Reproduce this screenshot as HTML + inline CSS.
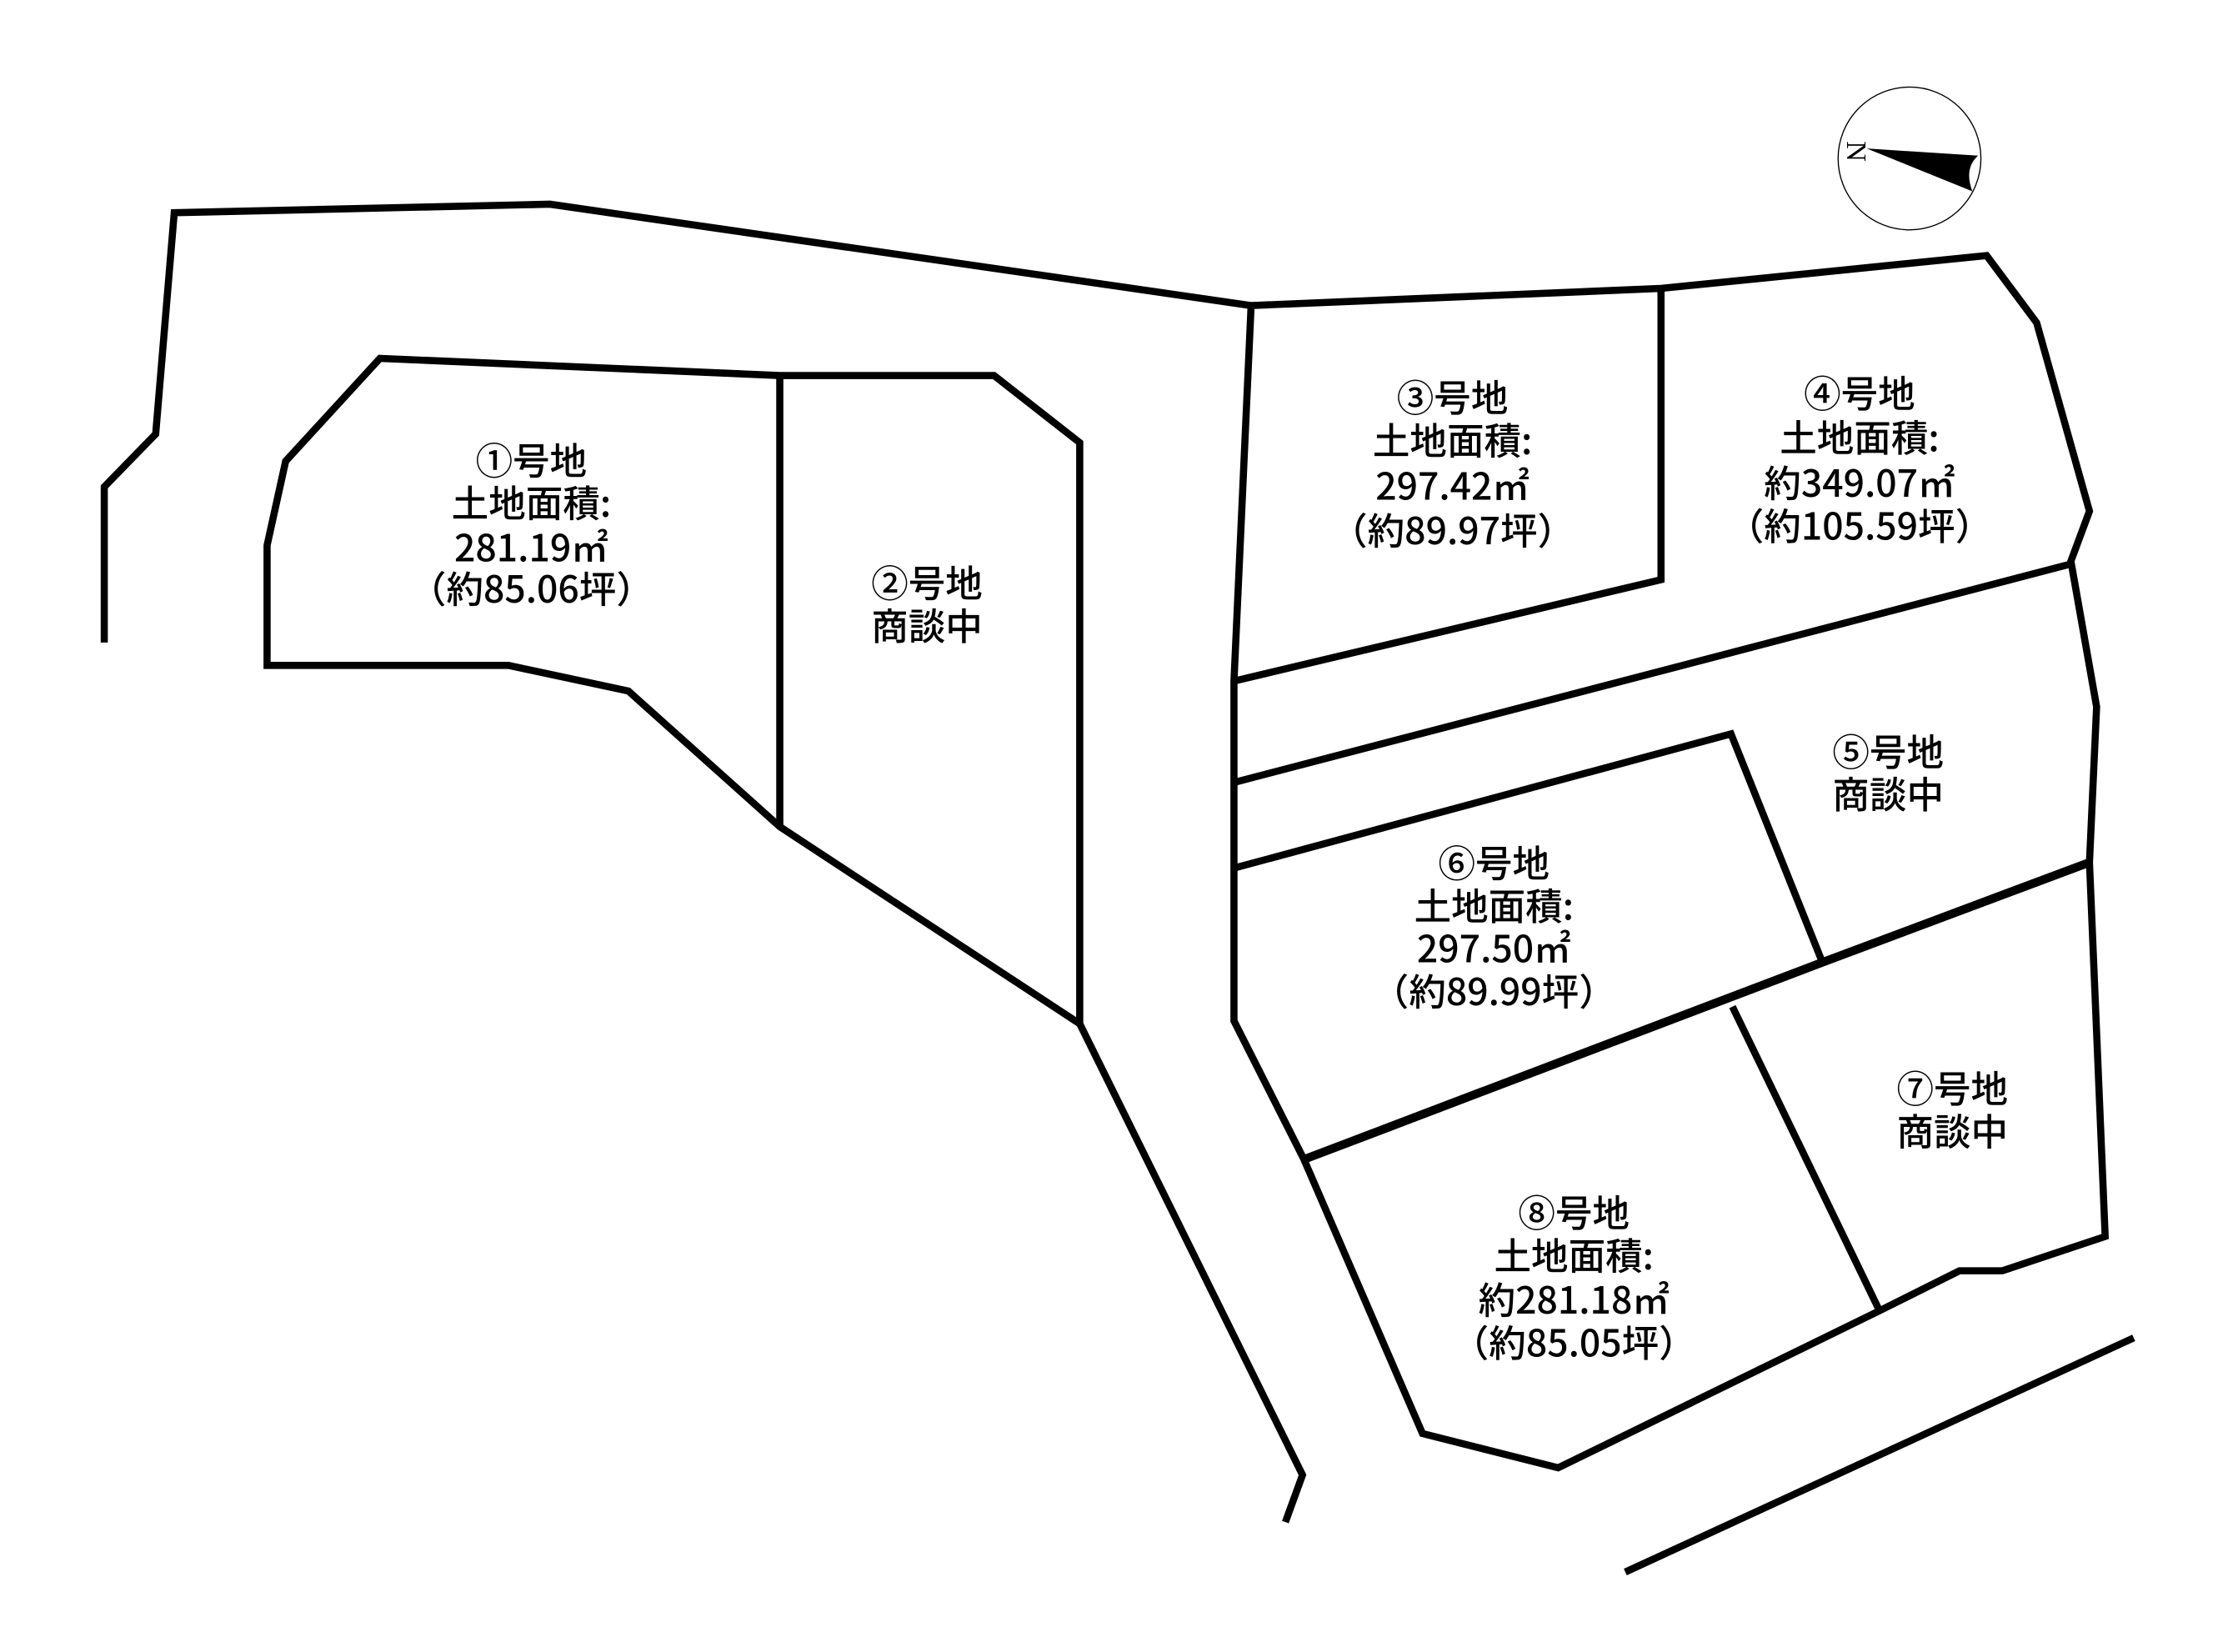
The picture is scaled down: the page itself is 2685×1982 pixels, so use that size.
<!DOCTYPE html>
<html><head><meta charset="utf-8"><style>
html,body{margin:0;padding:0;background:#fff;}
svg{display:block;}
text{font-family:"Noto Sans CJK JP","Liberation Sans",sans-serif;font-size:26px;font-weight:500;fill:#000;text-anchor:middle;dominant-baseline:middle;}
</style></head><body>
<svg width="2685" height="1982" viewBox="0 0 1567 1157" preserveAspectRatio="none" xmlns="http://www.w3.org/2000/svg">
<g fill="none" stroke="#000" stroke-width="5" stroke-linejoin="miter">
<polyline points="73,450 73,341 109,304 122,149 385,143 876,214"/>
<polygon points="876,214 864,477 864,715 913,812 996,1004 1091,1028 1316,918 1372,890 1402,890 1474,866 1463,604 1468,495 1450,393 1463,358 1426,226 1391,179 1163,202"/>
<polyline points="1163,202 1163,406 864,477"/>
<line x1="1450" y1="395" x2="864" y2="548"/>
<polyline points="864,608 1212,514 1276,674"/>
<polyline points="913,812 1276,674 1463,604" stroke-width="6"/>
<line x1="1213" y1="705" x2="1316" y2="918"/>
<polygon points="187,466 187,382 200,323 266,251 546,263 696,263 756,310 756,717 546,579 440,484 356,466"/>
<line x1="546" y1="263" x2="546" y2="579"/>
<polyline points="756,717 912,1033 900,1066"/>
<line x1="1138" y1="1101" x2="1494" y2="937"/>
</g>
<circle cx="1337" cy="111" r="50" fill="none" stroke="#000" stroke-width="0.8"/>
<path d="M1307,104 L1385,109 Q1375,118 1381,134 Z" fill="#000"/>
<text x="1298" y="106" transform="rotate(90 1298 106)" style="font-family:'Liberation Serif',serif;font-size:20px;font-weight:normal">N</text>
<g transform="translate(2,3)">
<text x="370" y="322">①号地</text><text x="370" y="352">土地面積:</text><text x="370" y="383">281.19㎡</text><text x="370" y="412">（約85.06坪）</text>
<text x="647" y="408">②号地</text><text x="647" y="438">商談中</text>
<text x="1015" y="278">③号地</text><text x="1015" y="308">土地面積:</text><text x="1015" y="340">297.42㎡</text><text x="1015" y="371">（約89.97坪）</text>
<text x="1300" y="275">④号地</text><text x="1300" y="306">土地面積:</text><text x="1300" y="338">約349.07㎡</text><text x="1300" y="368">（約105.59坪）</text>
<text x="1320" y="526">⑤号地</text><text x="1320" y="556">商談中</text>
<text x="1044" y="604">⑥号地</text><text x="1044" y="634">土地面積:</text><text x="1044" y="664">297.50㎡</text><text x="1044" y="694">（約89.99坪）</text>
<text x="1365" y="762">⑦号地</text><text x="1365" y="792">商談中</text>
<text x="1100" y="849">⑧号地</text><text x="1100" y="879">土地面積:</text><text x="1100" y="910">約281.18㎡</text><text x="1100" y="940">（約85.05坪）</text>
</g>
</svg>
</body></html>
